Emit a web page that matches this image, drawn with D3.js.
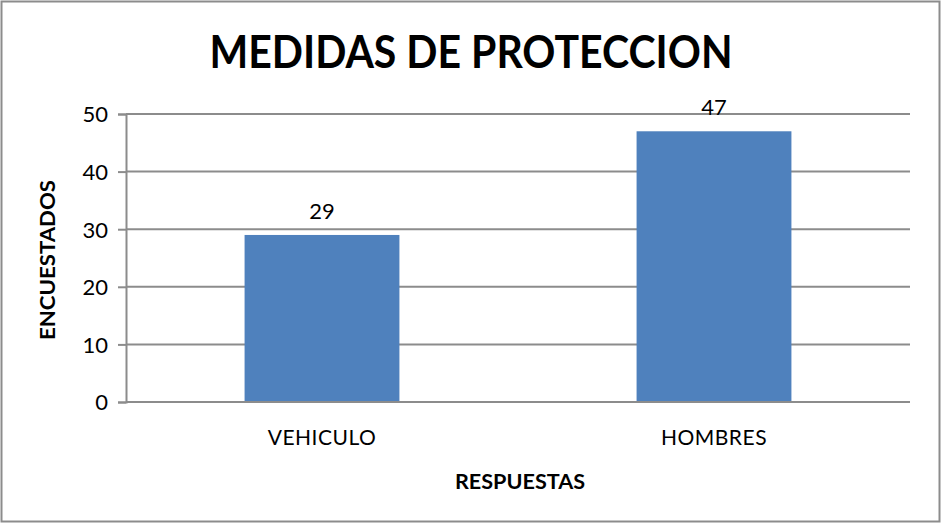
<!DOCTYPE html>
<html>
<head>
<meta charset="utf-8">
<script src="https://cdn.jsdelivr.net/npm/d3@7"></script>
<style>
  body { margin: 0; background: #fff; }
  svg { display: block; }
  .grid line { stroke: #8c8c8c; stroke-width: 2; }
  .axis path, .axis line { stroke: #8c8c8c; stroke-width: 2; }
  .axis text { font-family: Lato, "Open Sans", sans-serif; fill: #000; }
</style>
</head>
<body>
<div id="chart"></div>
<script>
// data
var categories = ["VEHICULO", "HOMBRES"];
var values = [29, 47];
var yTicks = [0, 10, 20, 30, 40, 50];

var W = 942, H = 524;
var margin = {top: 114, right: 32, bottom: 122, left: 126};
var width = W - margin.left - margin.right;
var height = H - margin.top - margin.bottom;

var svg = d3.select("#chart").append("svg")
    .attr("width", W)
    .attr("height", H);

// outer frame
svg.append("rect")
    .attr("x", 1.5).attr("y", 1.5)
    .attr("width", W - 4).attr("height", H - 4)
    .attr("fill", "#fff")
    .attr("stroke", "#8c8c8c")
    .attr("stroke-width", 2);

var g = svg.append("g")
    .attr("transform", "translate(" + margin.left + "," + margin.top + ")");

var x = d3.scaleBand()
    .domain(categories)
    .range([0, width])
    .paddingInner(0.605)
    .paddingOuter(0.3025);

var y = d3.scaleLinear()
    .domain([0, 50])
    .range([height, 0]);

// gridlines
g.append("g")
    .attr("class", "grid")
    .selectAll("line")
    .data(yTicks.filter(function(d) { return d > 0; }))
    .enter().append("line")
    .attr("x1", 0).attr("x2", width)
    .attr("y1", function(d) { return y(d); })
    .attr("y2", function(d) { return y(d); });

// bars
g.selectAll(".bar")
    .data(values)
    .enter().append("rect")
    .attr("class", "bar")
    .attr("x", function(d, i) { return x(categories[i]); })
    .attr("y", function(d) { return y(d); })
    .attr("width", x.bandwidth())
    .attr("height", function(d) { return height - y(d); })
    .attr("fill", "#4f81bd");

// value labels
g.selectAll(".lbl")
    .data(values)
    .enter().append("text")
    .attr("class", "lbl")
    .attr("x", function(d, i) { return x(categories[i]) + x.bandwidth() / 2; })
    .attr("y", function(d) { return y(d) - 16; })
    .attr("text-anchor", "middle")
    .style("font-family", "Lato, 'Open Sans', sans-serif")
    .style("font-size", "22px")
    .text(function(d) { return d; });

// y axis
var yAxis = g.append("g")
    .attr("class", "axis")
    .call(d3.axisLeft(y).tickValues(yTicks).tickSize(8).tickPadding(10));
yAxis.selectAll("text").style("font-size", "22px").attr("dy", "0.36em");

// x axis
var xAxis = g.append("g")
    .attr("class", "axis")
    .attr("transform", "translate(0," + height + ")")
    .call(d3.axisBottom(x).tickSize(0).tickPadding(28));
xAxis.select(".domain").attr("d", "M0,0H" + width);
xAxis.selectAll("text")
    .style("font-size", "21px")
    .style("letter-spacing", "0.5px");

// title
svg.append("text")
    .attr("x", 471)
    .attr("y", 68)
    .attr("text-anchor", "middle")
    .attr("textLength", 523)
    .attr("lengthAdjust", "spacingAndGlyphs")
    .style("font-family", "Lato, 'Open Sans', sans-serif")
    .style("font-weight", "bold")
    .style("font-size", "45px")
    .text("MEDIDAS DE PROTECCION");

// axis titles
svg.append("text")
    .attr("x", 520)
    .attr("y", 489)
    .attr("text-anchor", "middle")
    .attr("textLength", 130)
    .attr("lengthAdjust", "spacingAndGlyphs")
    .style("font-family", "Lato, 'Open Sans', sans-serif")
    .style("font-weight", "bold")
    .style("font-size", "21px")
    .text("RESPUESTAS");

svg.append("text")
    .attr("transform", "translate(55,260) rotate(-90)")
    .attr("text-anchor", "middle")
    .attr("textLength", 160)
    .attr("lengthAdjust", "spacingAndGlyphs")
    .style("font-family", "Lato, 'Open Sans', sans-serif")
    .style("font-weight", "bold")
    .style("font-size", "21px")
    .text("ENCUESTADOS");
</script>
</body>
</html>
